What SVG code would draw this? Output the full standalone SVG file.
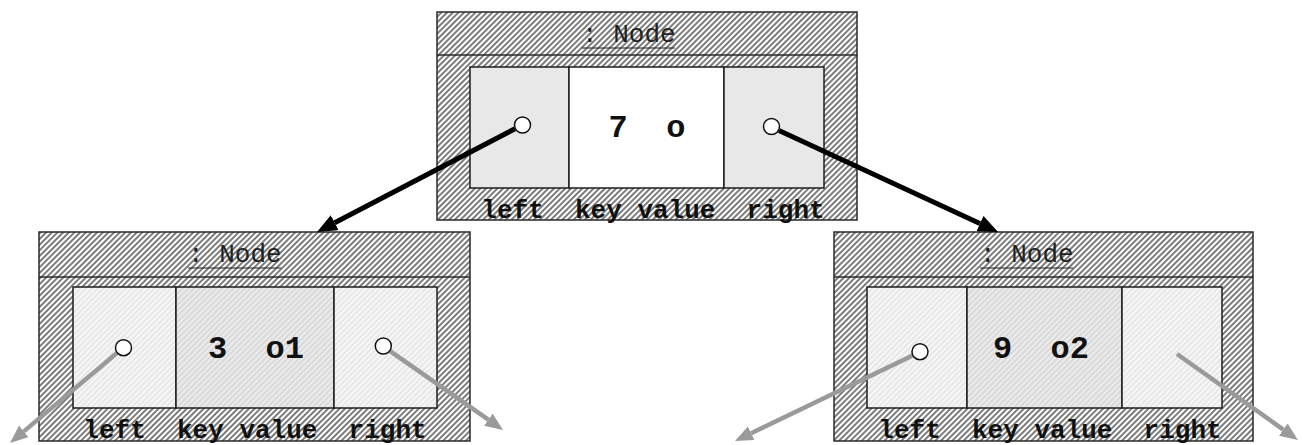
<svg xmlns="http://www.w3.org/2000/svg" width="1303" height="445" viewBox="0 0 1303 445">
<style>
.outer{fill:url(#hatch);stroke:#2a2a2a;stroke-width:1.5}
.sep{stroke:#2a2a2a;stroke-width:1.5}
.cell{stroke:#1e1e1e;stroke-width:1.5}
.grey{fill:#e8e8e8}
.white{fill:#ffffff}
.lite{fill:url(#lite)}
.mid{fill:url(#mid)}
.hdr{font-family:"Liberation Mono","Courier New",monospace;font-size:26px;fill:#222}
.ul{stroke:#222;stroke-width:1.2}
.val{font-family:"Liberation Mono","Courier New",monospace;font-size:32px;font-weight:bold;fill:#111;text-anchor:middle}
.lbl{font-family:"Liberation Mono","Courier New",monospace;font-size:26px;font-weight:bold;fill:#111;text-anchor:middle}
.port{fill:#fff;stroke:#111;stroke-width:1.5}
.blk{stroke:#000;stroke-width:5;fill:none;marker-end:url(#hb)}
.gry{stroke:#9a9a9a;stroke-width:4.5;fill:none;marker-end:url(#hg)}
</style>
<defs>
<pattern id="hatch" patternUnits="userSpaceOnUse" width="4" height="4" patternTransform="rotate(45)">
<rect width="4" height="4" fill="#fff"/>
<rect width="2" height="4" fill="#7c7c7c"/>
</pattern>
<pattern id="lite" patternUnits="userSpaceOnUse" width="4" height="4" patternTransform="rotate(45)">
<rect width="4" height="4" fill="#f7f7f7"/>
<rect width="2" height="4" fill="#e7e7e7"/>
</pattern>
<pattern id="mid" patternUnits="userSpaceOnUse" width="4" height="4" patternTransform="rotate(45)">
<rect width="4" height="4" fill="#ececec"/>
<rect width="2" height="4" fill="#d9d9d9"/>
</pattern>
<marker id="hb" markerUnits="userSpaceOnUse" markerWidth="20" markerHeight="17" viewBox="0 0 20 17" refX="0" refY="8.5" orient="auto">
<path d="M0,0 L20,8.5 L0,17 z" fill="#000"/>
</marker>
<marker id="hg" markerUnits="userSpaceOnUse" markerWidth="18" markerHeight="15" viewBox="0 0 18 15" refX="0" refY="7.5" orient="auto">
<path d="M0,0 L18,7.5 L0,15 z" fill="#9a9a9a"/>
</marker>
</defs>

<g id="node-top">
<rect class="outer" x="437" y="12" width="420" height="208"/>
<line class="sep" x1="437" y1="55" x2="857" y2="55"/>
<text class="hdr" x="582" y="42" xml:space="preserve">: Node</text>
<line class="ul" x1="582" y1="48" x2="675" y2="48"/>
<rect class="cell grey" x="470" y="67" width="99" height="121"/>
<rect class="cell white" x="569" y="67" width="155" height="121"/>
<rect class="cell grey" x="724" y="67" width="100" height="121"/>
<text class="val" x="647" y="137" xml:space="preserve">7  o</text>
<text class="lbl" x="653" y="218" xml:space="preserve">left  key value  right</text>
</g>

<g id="node-left">
<rect class="outer" x="39" y="232" width="431" height="209"/>
<line class="sep" x1="39" y1="277" x2="470" y2="277"/>
<text class="hdr" x="188" y="262" xml:space="preserve">: Node</text>
<line class="ul" x1="188" y1="268" x2="281" y2="268"/>
<rect class="cell lite" x="73" y="287" width="103" height="121"/>
<rect class="cell mid" x="176" y="287" width="158" height="121"/>
<rect class="cell lite" x="334" y="287" width="103" height="121"/>
<text class="val" x="256" y="358" xml:space="preserve">3  o1</text>
<text class="lbl" x="255" y="438" xml:space="preserve">left  key value  right</text>
</g>

<g id="node-right">
<rect class="outer" x="834" y="232" width="419" height="209"/>
<line class="sep" x1="834" y1="277" x2="1253" y2="277"/>
<text class="hdr" x="980" y="262" xml:space="preserve">: Node</text>
<line class="ul" x1="980" y1="268" x2="1073" y2="268"/>
<rect class="cell lite" x="867" y="287" width="100" height="121"/>
<rect class="cell mid" x="967" y="287" width="155" height="121"/>
<rect class="cell lite" x="1122" y="287" width="100" height="121"/>
<text class="val" x="1041" y="358" xml:space="preserve">9  o2</text>
<text class="lbl" x="1050" y="438" xml:space="preserve">left  key value  right</text>
</g>

<g id="connectors">
<line class="blk" x1="515" y1="128.7" x2="334.7" y2="222.7"/>
<line class="blk" x1="779" y1="130.4" x2="979.9" y2="223.6"/>
<line class="gry" x1="117.3" y1="352.8" x2="23.8" y2="431.4"/>
<line class="gry" x1="389.1" y1="350.3" x2="488.3" y2="419.7"/>
<line class="gry" x1="913.2" y1="355.3" x2="751.2" y2="433.2"/>
<line class="gry" x1="1177" y1="354" x2="1283.3" y2="429.6"/>
</g>

<g id="ports">
<circle class="port" cx="522.5" cy="125" r="8"/>
<circle class="port" cx="771.5" cy="126.5" r="8"/>
<circle class="port" cx="123.5" cy="347.7" r="8"/>
<circle class="port" cx="383.3" cy="346" r="8"/>
<circle class="port" cx="920" cy="351.7" r="8"/>
</g>
</svg>
